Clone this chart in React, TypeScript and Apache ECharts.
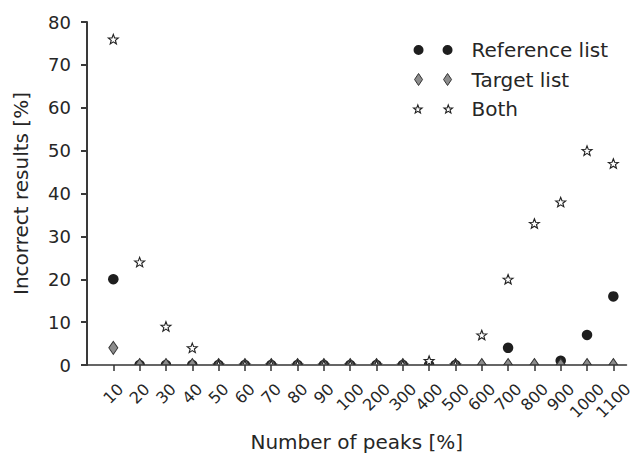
import React, { useEffect, useRef } from "react";
import * as echarts from "echarts";

const categories = ["10", "20", "30", "40", "50", "60", "70", "80", "90", "100", "200", "300", "400", "500", "600", "700", "800", "900", "1000", "1100"];
const referenceList: (number | null)[] = [20, 0, 0, 0, 0, 0, 0, 0, 0, 0, 0, 0, 0, 0, null, 4, null, 1, 7, 16];
const targetList: (number | null)[] = [4, 0, 0, 0, 0, 0, 0, 0, 0, 0, 0, 0, 0, 0, 0, 0, 0, 0, 0, 0];
const bothList: (number | null)[] = [76, 24, 9, 4, 0, 0, 0, 0, 0, 0, 0, 0, 1, 0, 7, 20, 33, 38, 50, 47];
const yTicks = [0, 10, 20, 30, 40, 50, 60, 70, 80];

const FONT = "'DejaVu Sans', sans-serif";
const TEXT = "#262626";
const AXIS = "#333333";
const TICK_FS = 18;
const XTICK_FS = 16;

function starPoints(cx: number, cy: number, R: number, ratio: number): string {
  const pts: string[] = [];
  for (let k = 0; k < 10; k++) {
    const a = (-90 + k * 36) * Math.PI / 180;
    const r = k % 2 === 0 ? R : R * ratio;
    pts.push((cx + r * Math.cos(a)).toFixed(3) + "," + (cy + r * Math.sin(a)).toFixed(3));
  }
  return "M" + pts.join(" L") + " Z";
}
function circlePath(cx: number, cy: number, r: number): string {
  return `M${cx - r},${cy} a${r},${r} 0 1,0 ${2 * r},0 a${r},${r} 0 1,0 ${-2 * r},0 Z`;
}
function diamondPath(cx: number, cy: number, w: number, h: number): string {
  return `M${cx},${cy - h / 2} L${cx + w / 2},${cy} L${cx},${cy + h / 2} L${cx - w / 2},${cy} Z`;
}

const STAR = "path://" + starPoints(5, 5, 5, 0.42);
const LEG_DX = 29;
const legendCircle = "path://" + circlePath(5, 6, 5) + " " + circlePath(5 + LEG_DX, 6, 5);
const legendDiamond = "path://" + diamondPath(5, 6, 8, 12) + " " + diamondPath(5 + LEG_DX, 6, 8, 12);
const legendStar = "path://" + starPoints(5, 5, 4.3, 0.42) + " " + starPoints(5 + LEG_DX, 5, 4.3, 0.42);

// category i sits at x position i + 1 (x axis runs from 0 to 20.5)
function toPoints(arr: (number | null)[]) {
  const out: number[][] = [];
  arr.forEach((v, i) => {
    if (v !== null) out.push([i + 1, v]);
  });
  return out;
}

// rich label styles emulating matplotlib rotation=45, ha='center'
const charW = 0.636 * XTICK_FS;
const K = 0.5 * 4 * charW;
const rich: Record<string, any> = {};
[2, 3, 4].forEach((n) => {
  const L = n * charW;
  const r = (K - 0.5 * L) / 2;
  const d = (K + 0.5 * L) / 2;
  rich["c" + n] = {
    fontFamily: FONT,
    fontSize: XTICK_FS,
    color: TEXT,
    padding: [2 * d, r, 0, 0],
  };
});

export default function App() {
  const ref = useRef<HTMLDivElement>(null);
  useEffect(() => {
    if (!ref.current) return;
    const chart = echarts.init(ref.current, null, { renderer: "svg" });
    const pos = categories.map((_, i) => i + 1);
    chart.setOption({
      animation: false,
      backgroundColor: "#ffffff",
      grid: { left: 87, right: 6.5, top: 22, bottom: 90, containLabel: false, outerBoundsMode: "none" },
      legend: {
        orient: "vertical",
        left: 413,
        top: 40,
        padding: 0,
        itemWidth: 39,
        itemHeight: 12,
        itemGap: 9.5,
        textStyle: { fontFamily: FONT, fontSize: 20, color: TEXT, lineHeight: 20, padding: [0, 0, 0, 14] },
        data: [
          { name: "Reference list", icon: legendCircle, itemStyle: { color: "#1e1e1e", borderWidth: 0 } },
          { name: "Target list", icon: legendDiamond, itemStyle: { color: "#8c8c8c", borderColor: "#333", borderWidth: 1 } },
          { name: "Both", icon: legendStar, itemStyle: { color: "#ffffff", borderColor: "#222", borderWidth: 1.1 } },
        ],
      },
      xAxis: {
        type: "value",
        min: 0,
        max: 20.5,
        interval: 1,
        z: 10,
        name: "Number of peaks [%]",
        nameLocation: "middle",
        nameGap: 67,
        nameTextStyle: { fontFamily: FONT, fontSize: 20, color: TEXT, lineHeight: 20 },
        axisLine: { show: true, onZero: false, lineStyle: { color: AXIS, width: 1.5 } },
        axisTick: { show: true, length: 6, customValues: pos, lineStyle: { color: AXIS, width: 1.5 } },
        axisLabel: {
          customValues: pos,
          rotate: 45,
          margin: 7,
          fontFamily: FONT,
          fontSize: XTICK_FS,
          color: TEXT,
          formatter: (v: number) => {
            const c = categories[Math.round(v) - 1];
            if (c === undefined) return "";
            return "{c" + c.length + "|" + c + "}";
          },
          rich,
        },
        splitLine: { show: false },
      },
      yAxis: {
        type: "value",
        position: "left",
        min: 0,
        max: 80,
        interval: 10,
        z: 10,
        name: "Incorrect results [%]",
        nameLocation: "middle",
        nameGap: 56,
        nameRotate: 90,
        nameTextStyle: { fontFamily: FONT, fontSize: 20, color: TEXT },
        axisLine: { show: true, onZero: false, lineStyle: { color: "#3a3a3a", width: 2 } },
        axisTick: { show: true, inside: false, length: 6, lineStyle: { color: "#3a3a3a", width: 2 } },
        axisLabel: {
          margin: 16,
          fontFamily: FONT,
          fontSize: TICK_FS,
          color: TEXT,
          formatter: (v: number) => (yTicks.includes(v) ? String(v) : ""),
        },
        splitLine: { show: false },
      },
      graphic: [
        {
          type: "rect",
          z: 5,
          silent: true,
          shape: { x: 88, y: 365, width: 540, height: 9 },
          style: { fill: "#ffffff" },
        },
      ],
      series: [
        {
          name: "Reference list",
          type: "scatter",
          symbol: "circle",
          symbolSize: 10.5,
          itemStyle: { color: "#1e1e1e", opacity: 1 },
          data: toPoints(referenceList),
          clip: false,
        },
        {
          name: "Target list",
          type: "scatter",
          symbol: "diamond",
          symbolSize: [9, 13],
          itemStyle: { color: "#8c8c8c", borderColor: "#333", borderWidth: 1, opacity: 1 },
          data: toPoints(targetList),
          clip: false,
        },
        {
          name: "Both",
          type: "scatter",
          symbol: STAR,
          symbolSize: [10, 9.5],
          itemStyle: { color: "#ffffff", borderColor: "#222", borderWidth: 1.1, opacity: 1 },
          data: toPoints(bothList),
          clip: false,
        },
      ],
    });
    return () => chart.dispose();
  }, []);
  return <div ref={ref} style={{ width: 633, height: 455, position: "absolute", left: 0, top: 0 }} />;
}
